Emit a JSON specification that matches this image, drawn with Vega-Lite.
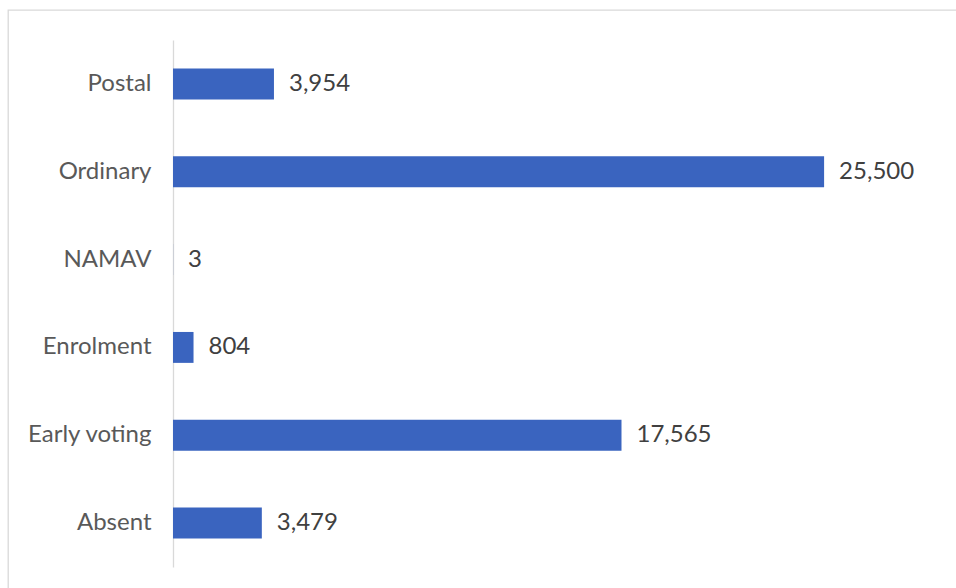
{
  "$schema": "https://vega.github.io/schema/vega-lite/v6.json",
  "width": 960,
  "height": 590,
  "autosize": {"type": "none"},
  "padding": {"left": 8, "top": 10, "right": 0, "bottom": 0},
  "background": "#ffffff",
  "config": {"view": {"stroke": "#d9d9d9", "strokeWidth": 1.3}, "font": "Lato"},
  "data": {
    "values": [
      {"category": "Postal", "votes": 3954},
      {"category": "Ordinary", "votes": 25500},
      {"category": "NAMAV", "votes": 3},
      {"category": "Enrolment", "votes": 804},
      {"category": "Early voting", "votes": 17565},
      {"category": "Absent", "votes": 3479}
    ]
  },
  "encoding": {
    "y": {
      "field": "category",
      "type": "nominal",
      "sort": ["Postal", "Ordinary", "NAMAV", "Enrolment", "Early voting", "Absent"],
      "scale": {"range": [30, 557], "paddingInner": 0.648, "paddingOuter": 0.324},
      "axis": {
        "title": null,
        "offset": -165,
        "ticks": false,
        "domainColor": "#d9d9d9",
        "domainWidth": 1.3,
        "labelFont": "Lato",
        "labelFontSize": 24,
        "labelColor": "#595959",
        "labelPadding": 22
      }
    },
    "x": {
      "field": "votes",
      "type": "quantitative",
      "scale": {"domain": [0, 30000], "range": [165, 931]},
      "axis": null
    }
  },
  "layer": [
    {"mark": {"type": "bar", "color": "#3A64BF"}},
    {
      "mark": {"type": "text", "align": "left", "baseline": "middle", "dx": 15, "fontSize": 24, "font": "Lato", "color": "#404040"},
      "encoding": {"text": {"field": "votes", "type": "quantitative", "format": ","}}
    }
  ]
}
